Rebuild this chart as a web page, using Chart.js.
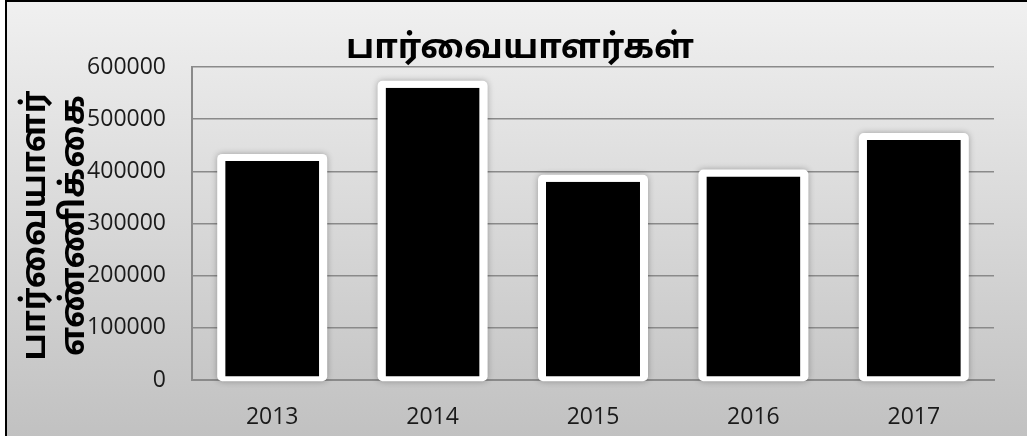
<!DOCTYPE html>
<html>
<head>
<meta charset="utf-8">
<script src="https://cdn.jsdelivr.net/npm/chart.js@4"></script>
<style>
  html, body { margin: 0; padding: 0; overflow: hidden; background: #fff; }
  #frame {
    position: absolute; left: 5px; top: 0px;
    width: 1030px; height: 445px;
    border-left: 2px solid #000; border-top: 2px solid #000;
    background: linear-gradient(#f0f0f0, #c0c0c0);
  }
  canvas { display: block; }
</style>
</head>
<body>
<div id="frame"><canvas id="graf" width="1020" height="434"></canvas></div>
<script>
// datos del gráfico
const years = ['2013', '2014', '2015', '2016', '2017'];
const visitors = [420000, 560000, 380000, 390000, 460000];
const yTicks = [0, 100000, 200000, 300000, 400000, 500000, 600000];
const chartTitle = 'பார்வையாளர்கள்';
const yTitle = ['பார்வையாளர்', 'எண்ணிக்கை'];

const tamilFont = '"Noto Sans Tamil", "Noto Sans", "DejaVu Sans", sans-serif';

// marco blanco con sombra alrededor de cada barra
const barFrame = {
  id: 'barFrame',
  beforeDatasetsDraw(chart) {
    const ctx = chart.ctx;
    const meta = chart.getDatasetMeta(0);
    ctx.save();
    meta.data.forEach(bar => {
      const l = bar.x - bar.width / 2 - 8;
      const r = bar.x + bar.width / 2 + 8;
      const t = bar.y - 7;
      const b = bar.base + 2;
      ctx.shadowColor = 'rgba(0,0,0,0.3)';
      ctx.shadowBlur = 6;
      ctx.fillStyle = '#fff';
      ctx.beginPath();
      ctx.roundRect(l, t, r - l, b - t, 5);
      ctx.fill();
    });
    ctx.restore();
  }
};

// títulos dibujados a mano (el del eje se superpone a las etiquetas)
const titles = {
  id: 'titles',
  afterDraw(chart) {
    const ctx = chart.ctx;
    const area = chart.chartArea;
    ctx.save();
    ctx.fillStyle = '#000';
    ctx.textAlign = 'center';
    ctx.textBaseline = 'middle';
    ctx.font = 'bold 34px ' + tamilFont;
    ctx.fillText(chartTitle, chart.width / 2 + 3, area.top - 16);

    const cy = (area.top + area.bottom) / 2 + 2;
    ctx.translate(0, cy);
    ctx.rotate(-Math.PI / 2);
    ctx.font = 'bold 33px ' + tamilFont;
    ctx.fillText(yTitle[0], 0, 31);
    ctx.fillText(yTitle[1], 0, 70);
    ctx.restore();
  }
};

const ctx = document.getElementById('graf').getContext('2d');
const myChart = new Chart(ctx, {
  type: 'bar',
  data: {
    labels: years,
    datasets: [{
      data: visitors,
      backgroundColor: '#000',
      borderColor: '#fff',
      borderWidth: { top: 0, left: 0, right: 0, bottom: 3 },
      borderSkipped: false,
      categoryPercentage: 1,
      barPercentage: 0.586
    }]
  },
  options: {
    responsive: false,
    animation: false,
    layout: { padding: { left: 0, right: 33, top: 65, bottom: 0 } },
    scales: {
      y: {
        min: 0,
        max: yTicks[yTicks.length - 1],
        afterBuildTicks: scale => { scale.ticks = yTicks.map(v => ({ value: v })); },
        afterFit: scale => { scale.width = 185; },
        grid: { color: '#8a8a8a', lineWidth: 1.5, drawTicks: false },
        border: { display: true, color: '#8a8a8a', width: 2 },
        ticks: {
          padding: 26,
          color: '#1a1a1a',
          font: { family: '"Open Sans", sans-serif', size: 23 },
          callback: v => String(v)
        }
      },
      x: {
        afterFit: scale => { scale.height = 56; },
        grid: { display: false, drawTicks: false },
        border: { display: true, color: '#8a8a8a', width: 2 },
        ticks: {
          padding: 24,
          color: '#1a1a1a',
          font: { family: '"Open Sans", sans-serif', size: 23 }
        }
      }
    },
    plugins: {
      legend: { display: false },
      title: { display: false },
      tooltip: { enabled: false }
    }
  },
  plugins: [barFrame, titles]
});
</script>
</body>
</html>
